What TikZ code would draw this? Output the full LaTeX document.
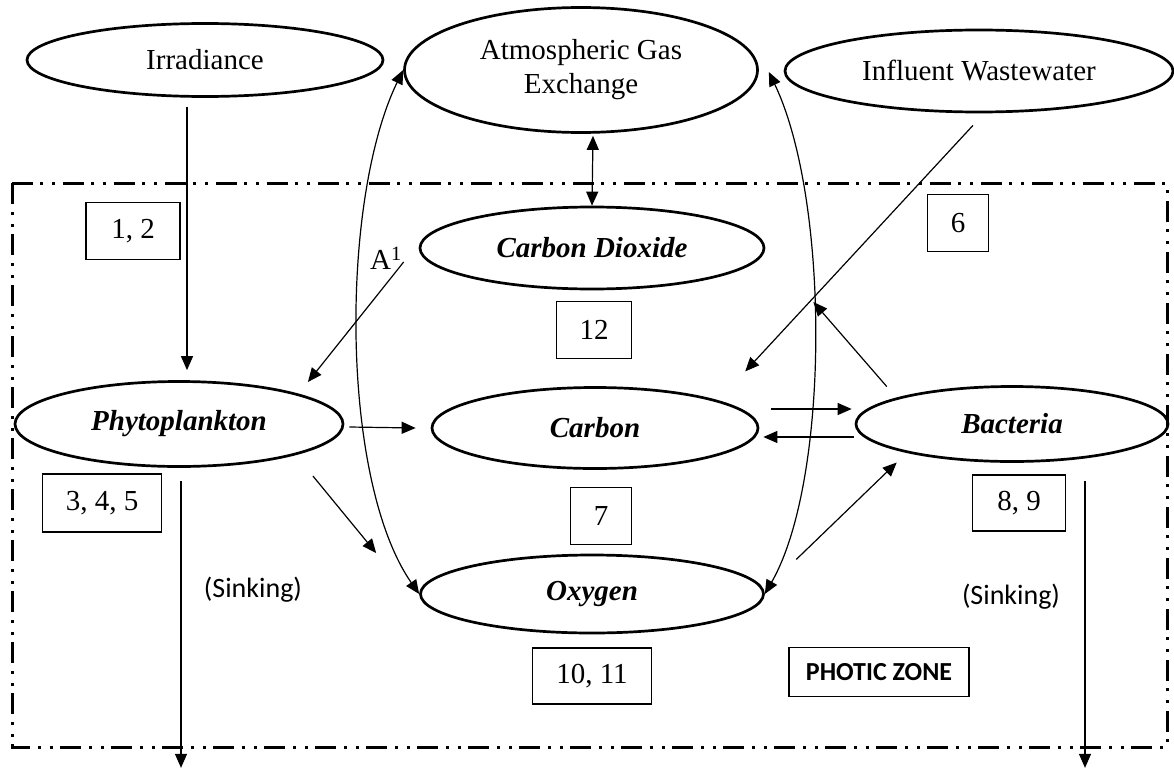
\documentclass[tikz,border=0pt]{standalone}
\usepackage{fontspec}
\setmainfont{Liberation Serif}
\newfontfamily\calibri{Carlito}
\usetikzlibrary{arrows.meta,shapes.geometric,positioning,calc}
\newcommand{\bigtext}{\fontsize{29}{34}\selectfont}
\tikzset{pool/.style={draw,ellipse,line width=2.7pt,inner sep=0pt,font=\bigtext}}
\tikzset{state pool/.style={pool,font=\bigtext\bfseries\itshape}}
\tikzset{numbox/.style={draw,line width=1.8pt,inner sep=0pt,font=\bigtext}}
\tikzset{
	flow/.style={-{Triangle[length=14pt,width=12pt]},line width=1.2pt},
	twoway/.style={{Triangle[length=14pt,width=12pt]}-{Triangle[length=14pt,width=12pt]},line width=1.2pt},
	zone/.style={line width=3pt,dash pattern=on 21pt off 8pt on 3pt off 9pt on 3pt off 7pt},
	sinklabel/.style={font=\fontsize{28}{32}\selectfont\calibri}
}

\begin{document}
\begin{tikzpicture}[x=1pt,y=-1pt]
	\useasboundingbox (0,0) rectangle (1174,768);
	\draw[zone] (12,183) rectangle (1167,747);
	% outside the zone
	\node[pool,minimum width=356pt,minimum height=73pt] at (205,60) (irr) {Irradiance};
	\node[pool,align=center,minimum width=353pt,minimum height=125pt] at (581,70) (atm) {Atmospheric Gas\\Exchange};
	\node[pool,minimum width=388pt,minimum height=82pt] at (979,71) (inf) {Influent Wastewater};
	% pools
	\node[state pool,minimum width=344pt,minimum height=82pt] at (592,248) (co2) {Carbon Dioxide};
	\node[state pool,minimum width=328pt,minimum height=85pt] at (179,424) (phyto) {Phytoplankton};
	\node[state pool,minimum width=326pt,minimum height=81pt] at (595,428) (carb) {Carbon};
	\node[state pool,minimum width=312pt,minimum height=75pt] at (1012,424) (bact) {Bacteria};
	\node[state pool,minimum width=343pt,minimum height=78pt] at (592,594) (oxy) {Oxygen};
	% numbered boxes
	\node[numbox,minimum width=94pt,minimum height=57pt] at (133,231) (b12) {1, 2};
	\node[numbox,minimum width=61pt,minimum height=57pt] at (958,223) (b6) {6};
	\node[numbox,minimum width=75pt,minimum height=57pt] at (594,330) (b12b) {12};
	\node[numbox,minimum width=119pt,minimum height=58pt] at (102,503) (b345) {3, 4, 5};
	\node[numbox,minimum width=61pt,minimum height=57pt] at (601,516) (b7) {7};
	\node[numbox,minimum width=93pt,minimum height=56pt] at (1019,503) (b89) {8, 9};
	\node[numbox,minimum width=119pt,minimum height=56pt] at (592,676) (b1011) {10, 11};
	\node[numbox,minimum width=180pt,minimum height=49pt,font=\fontsize{26}{30}\selectfont\calibri\bfseries] at (879,672) (zonelab) {PHOTIC ZONE};
	\node[font=\bigtext] at (386,258) (alab) {A\textsuperscript{1}};
	\node[sinklabel] at (253,590) (sinkl) {(Sinking)};
	\node[sinklabel] at (1011,597) (sinkr) {(Sinking)};
	% flows
	\draw[flow] ([xshift=-18pt,yshift=-9pt]irr.south) -- ([xshift=8pt,yshift=10pt]phyto.north);
	\draw[flow] ([xshift=-6pt,yshift=-12pt]inf.south) -- ([xshift=34pt,yshift=27pt]carb.north east);
	\draw[flow] ([xshift=-14pt,yshift=10pt]bact.north west) -- ([xshift=48pt,yshift=-54pt]co2.east);
	\draw[flow] ([xshift=-15pt,yshift=-14pt]co2.west) -- ([xshift=12pt,yshift=11pt]phyto.north east);
	\draw[flow] ([xshift=5pt,yshift=-3pt]phyto.east) -- ([xshift=-15pt]carb.west);
	\draw[flow] ([xshift=17pt,yshift=-21pt]phyto.south east) -- ([xshift=-43pt,yshift=41pt]oxy.west);
	\draw[flow] ([xshift=12pt,yshift=19pt]carb.east) -- ([xshift=-3pt,yshift=15pt]bact.west);
	\draw[flow] ([xshift=-1pt,yshift=-13pt]bact.west) -- ([xshift=4pt,yshift=-9pt]carb.east);
	\draw[flow] ([xshift=82pt,yshift=6pt]oxy.north east) -- ([xshift=-4pt,yshift=-11pt]bact.south west);
	% gas exchange
	\draw[twoway] ([xshift=12pt,yshift=-2pt]atm.south) -- (co2.north);
	\draw[twoway] (atm.west) .. controls (340,200) and (340,480) .. (oxy.west);
	\draw[twoway] ([xshift=10pt,yshift=-2pt]atm.east) .. controls (830,200) and (830,480) .. (oxy.east);
	% sinking
	\draw[flow] ([xshift=2pt,yshift=-13pt]phyto.south) -- ++(0,287);
	\draw[flow] ([xshift=73pt,yshift=-18pt]bact.south) -- ++(0,287);
\end{tikzpicture}
\end{document}
